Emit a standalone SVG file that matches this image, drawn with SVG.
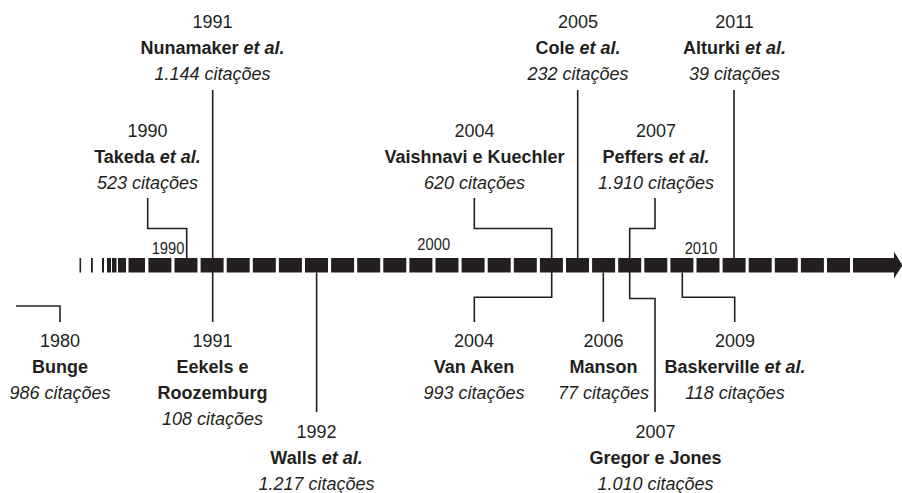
<svg xmlns="http://www.w3.org/2000/svg" width="902" height="493" viewBox="0 0 902 493">
<defs>
<style>
text{font-family:"Liberation Sans",Arial,sans-serif;fill:#231f20;text-anchor:middle}
.yr{font-size:19px}
.nm{font-size:19px;font-weight:bold}
.ct{font-size:19px;font-style:italic}
.ax{font-size:16px}
.em{font-style:italic}
.seg{fill:#231f20}
#connectors polyline,#connectors line{fill:none;stroke:#231f20;stroke-width:1.6}
</style>
</defs>
<rect width="902" height="493" fill="#ffffff"/>
<g id="timeline">
<rect class="seg" x="79.5" y="258" width="1.6" height="14.5"/>
<rect class="seg" x="91" y="258" width="1.8" height="14.5"/>
<rect class="seg" x="102" y="258" width="2" height="14.5"/>
<rect class="seg" x="107" y="258" width="4" height="14.5"/>
<rect class="seg" x="112" y="258" width="4.5" height="14.5"/>
<rect class="seg" x="118" y="258" width="8" height="14.5"/>
<rect class="seg" x="128.5" y="258" width="16.5" height="14.5"/>
<rect class="seg" x="148.4" y="258" width="23" height="14.5"/>
<rect class="seg" x="174.5" y="258" width="23" height="14.5"/>
<rect class="seg" x="200.6" y="258" width="23" height="14.5"/>
<rect class="seg" x="226.7" y="258" width="23" height="14.5"/>
<rect class="seg" x="252.8" y="258" width="23" height="14.5"/>
<rect class="seg" x="278.9" y="258" width="23" height="14.5"/>
<rect class="seg" x="305" y="258" width="23" height="14.5"/>
<rect class="seg" x="331.1" y="258" width="23" height="14.5"/>
<rect class="seg" x="357.2" y="258" width="23" height="14.5"/>
<rect class="seg" x="383.3" y="258" width="23" height="14.5"/>
<rect class="seg" x="409.4" y="258" width="23" height="14.5"/>
<rect class="seg" x="435.5" y="258" width="23" height="14.5"/>
<rect class="seg" x="461.6" y="258" width="23" height="14.5"/>
<rect class="seg" x="487.7" y="258" width="23" height="14.5"/>
<rect class="seg" x="513.8" y="258" width="23" height="14.5"/>
<rect class="seg" x="539.9" y="258" width="23" height="14.5"/>
<rect class="seg" x="566" y="258" width="23" height="14.5"/>
<rect class="seg" x="592.1" y="258" width="23" height="14.5"/>
<rect class="seg" x="618.2" y="258" width="23" height="14.5"/>
<rect class="seg" x="644.3" y="258" width="23" height="14.5"/>
<rect class="seg" x="670.4" y="258" width="23" height="14.5"/>
<rect class="seg" x="696.5" y="258" width="23" height="14.5"/>
<rect class="seg" x="722.6" y="258" width="23" height="14.5"/>
<rect class="seg" x="748.7" y="258" width="23" height="14.5"/>
<rect class="seg" x="774.8" y="258" width="23" height="14.5"/>
<rect class="seg" x="800.9" y="258" width="23" height="14.5"/>
<rect class="seg" x="827" y="258" width="23" height="14.5"/>
<polygon class="seg" points="853,258 894,258 894,251.7 902.5,265.2 894,278.5 894,272.5 853,272.5"/>
<g transform="translate(168 0) scale(0.92 1)"><text class="ax" x="0" y="254.5">1990</text></g>
<g transform="translate(433.7 0) scale(0.92 1)"><text class="ax" x="0" y="250.5">2000</text></g>
<g transform="translate(701 0) scale(0.92 1)"><text class="ax" x="0" y="254">2010</text></g>
</g>
<g id="connectors">
<polyline points="16,306 60,306 60,322"/>
<polyline points="147.7,198 147.7,228.5 186.7,228.5 186.7,258"/>
<line x1="212.7" y1="90" x2="212.7" y2="322"/>
<line x1="316.6" y1="272.5" x2="316.6" y2="412"/>
<polyline points="474.3,198 474.3,228.5 551.7,228.5 551.7,297.3 474.3,297.3 474.3,322"/>
<line x1="577.7" y1="90" x2="577.7" y2="258"/>
<line x1="603.3" y1="272.5" x2="603.3" y2="322"/>
<polyline points="655,198 655,228.5 629.7,228.5 629.7,298.5 655,298.5 655,412"/>
<polyline points="682.3,272.5 682.3,297.3 734.7,297.3 734.7,322"/>
<line x1="734" y1="90" x2="734" y2="258"/>
</g>
<g id="bunge" transform="translate(60 0) scale(0.947 1)">
<text class="yr" x="0" y="347">1980</text>
<text class="nm" x="0" y="373">Bunge</text>
<text class="ct" x="0" y="399">986 citações</text>
</g>
<g id="takeda" transform="translate(147.5 0) scale(0.947 1)">
<text class="yr" x="0" y="137">1990</text>
<text class="nm" x="0" y="163">Takeda <tspan class="em">et al.</tspan></text>
<text class="ct" x="0" y="189">523 citações</text>
</g>
<g id="nunamaker" transform="translate(212.5 0) scale(0.947 1)">
<text class="yr" x="0" y="28">1991</text>
<text class="nm" x="0" y="54">Nunamaker <tspan class="em">et al.</tspan></text>
<text class="ct" x="0" y="80">1.144 citações</text>
</g>
<g id="eekels" transform="translate(212.5 0) scale(0.947 1)">
<text class="yr" x="0" y="347">1991</text>
<text class="nm" x="0" y="373">Eekels e</text>
<text class="nm" x="0" y="399">Roozemburg</text>
<text class="ct" x="0" y="425">108 citações</text>
</g>
<g id="walls" transform="translate(316.5 0) scale(0.947 1)">
<text class="yr" x="0" y="438">1992</text>
<text class="nm" x="0" y="464">Walls <tspan class="em">et al.</tspan></text>
<text class="ct" x="0" y="490">1.217 citações</text>
</g>
<g id="vaishnavi" transform="translate(474.5 0) scale(0.947 1)">
<text class="yr" x="0" y="137">2004</text>
<text class="nm" x="0" y="163">Vaishnavi e Kuechler</text>
<text class="ct" x="0" y="189">620 citações</text>
</g>
<g id="vanaken" transform="translate(474 0) scale(0.947 1)">
<text class="yr" x="0" y="347">2004</text>
<text class="nm" x="0" y="373">Van Aken</text>
<text class="ct" x="0" y="399">993 citações</text>
</g>
<g id="cole" transform="translate(578 0) scale(0.947 1)">
<text class="yr" x="0" y="28">2005</text>
<text class="nm" x="0" y="54">Cole <tspan class="em">et al.</tspan></text>
<text class="ct" x="0" y="80">232 citações</text>
</g>
<g id="manson" transform="translate(603.5 0) scale(0.947 1)">
<text class="yr" x="0" y="347">2006</text>
<text class="nm" x="0" y="373">Manson</text>
<text class="ct" x="0" y="399">77 citações</text>
</g>
<g id="peffers" transform="translate(656 0) scale(0.947 1)">
<text class="yr" x="0" y="137">2007</text>
<text class="nm" x="0" y="163">Peffers <tspan class="em">et al.</tspan></text>
<text class="ct" x="0" y="189">1.910 citações</text>
</g>
<g id="gregor" transform="translate(655.5 0) scale(0.947 1)">
<text class="yr" x="0" y="438">2007</text>
<text class="nm" x="0" y="464">Gregor e Jones</text>
<text class="ct" x="0" y="490">1.010 citações</text>
</g>
<g id="baskerville" transform="translate(735 0) scale(0.947 1)">
<text class="yr" x="0" y="347">2009</text>
<text class="nm" x="0" y="373">Baskerville <tspan class="em">et al.</tspan></text>
<text class="ct" x="0" y="399">118 citações</text>
</g>
<g id="alturki" transform="translate(734.5 0) scale(0.947 1)">
<text class="yr" x="0" y="28">2011</text>
<text class="nm" x="0" y="54">Alturki <tspan class="em">et al.</tspan></text>
<text class="ct" x="0" y="80">39 citações</text>
</g>
</svg>
